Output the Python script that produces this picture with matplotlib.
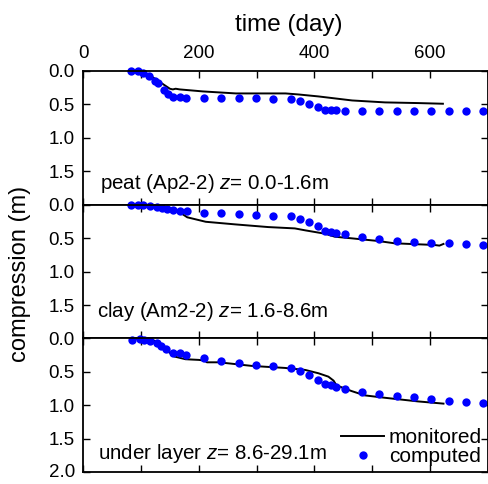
import matplotlib
matplotlib.use("Agg")
import matplotlib.pyplot as plt
import numpy as np

plt.rcParams['font.family'] = ['Liberation Sans', 'DejaVu Sans']
plt.rcParams['mathtext.fontset'] = 'custom'
plt.rcParams['mathtext.rm'] = 'Liberation Sans'
plt.rcParams['mathtext.it'] = 'Liberation Sans:italic'

# computed points (later part shares the same days)
late_days = [209, 239, 269, 299, 329, 359, 375, 390, 406, 418, 428, 437, 452,
             482, 512, 542, 572, 602, 632, 662, 692]

peat_comp_days = [83, 95, 104, 114, 125, 130, 139, 146, 155, 167, 178] + late_days
peat_comp = [0.0, 0.0, 0.04, 0.08, 0.156, 0.19, 0.29, 0.35, 0.39, 0.40, 0.41,
             0.415, 0.415, 0.415, 0.415, 0.425, 0.425, 0.45, 0.50, 0.54, 0.585, 0.59, 0.59,
             0.595, 0.60, 0.60, 0.60, 0.60, 0.60, 0.60, 0.60, 0.60]

clay_comp_days = [83, 95, 104, 115, 127, 136, 145, 156, 167, 179] + late_days
clay_comp = [0.01, 0.01, 0.01, 0.02, 0.03, 0.05, 0.07, 0.08, 0.09, 0.10,
             0.119, 0.133, 0.148, 0.159, 0.169, 0.173, 0.213, 0.267, 0.326, 0.391, 0.41,
             0.43, 0.444, 0.48, 0.514, 0.539, 0.554, 0.569, 0.578, 0.59, 0.60]

under_comp_days = [84, 98, 105, 115, 127, 135, 144, 155, 167, 178] + late_days
under_comp = [0.02, 0.01, 0.025, 0.035, 0.074, 0.11, 0.16, 0.21, 0.22, 0.25,
              0.29, 0.33, 0.36, 0.39, 0.415, 0.436, 0.49, 0.55, 0.62, 0.68, 0.70,
              0.73, 0.76, 0.80, 0.83, 0.86, 0.88, 0.90, 0.93, 0.945, 0.96]

# monitored lines
peat_mon_days = [82, 100, 115, 132, 150, 155, 160, 167, 207, 264, 320, 350, 373,
                 407, 436, 465, 522, 579, 622]
peat_mon = [0.0, 0.02, 0.067, 0.166, 0.27, 0.28, 0.27, 0.28, 0.31, 0.34, 0.34, 0.34,
            0.356, 0.385, 0.415, 0.445, 0.474, 0.484, 0.494]

clay_mon_days = [90, 132, 155, 172, 180, 212, 263, 320, 366, 384, 418, 435, 464,
                 510, 538, 578, 607, 616, 623]
clay_mon = [0.0, 0.02, 0.07, 0.144, 0.19, 0.257, 0.296, 0.336, 0.356, 0.385, 0.435,
            0.48, 0.504, 0.544, 0.578, 0.593, 0.603, 0.613, 0.588]

under_mon_days = [84, 120, 135, 149, 158, 177, 200, 210, 214, 235, 292, 349, 384,
                  407, 424, 433, 438, 464, 487, 521, 579, 623]
under_mon = [0.0, 0.02, 0.085, 0.21, 0.27, 0.31, 0.32, 0.33, 0.356, 0.356, 0.41, 0.44,
             0.47, 0.52, 0.57, 0.63, 0.70, 0.785, 0.85, 0.885, 0.94, 0.973]

labels = ['peat (Ap2-2) $z$= 0.0-1.6m', 'clay (Am2-2) $z$= 1.6-8.6m',
          'under layer $z$= 8.6-29.1m']
text_pos = [(0.042, 0.118), (0.034, 0.159), (0.036, 0.10)]

series = [(peat_mon_days, peat_mon, peat_comp_days, peat_comp),
          (clay_mon_days, clay_mon, clay_comp_days, clay_comp),
          (under_mon_days, under_mon, under_comp_days, under_comp)]

fig, axes = plt.subplots(3, 1, figsize=(4.89, 4.84), dpi=100, sharex=True)
fig.subplots_adjust(left=0.170, right=0.998, top=0.854, bottom=0.024, hspace=0)

for i, ax in enumerate(axes):
    md, mv, cd, cv = series[i]
    ax.plot(md, mv, color='black', lw=1.4, label='monitored')
    ax.plot(cd, cv, 'o', color='#0000ff', ms=6, mec='none', label='computed',
            clip_on=False)
    ax.set_xlim(0, 700)
    ax.set_ylim(2.0, 0.0)
    ax.set_xticks(range(0, 701, 100))
    ax.set_xticklabels(['0', '', '200', '', '400', '', '600', ''])
    if i < 2:
        ax.set_yticks([0.0, 0.5, 1.0, 1.5])
    else:
        ax.set_yticks([0.0, 0.5, 1.0, 1.5, 2.0])
    ax.tick_params(direction='in', length=5, width=1, labelsize=13.5, pad=6,
                   top=True, right=True, bottom=True, left=True,
                   labelbottom=False, labeltop=(i == 0))
    for s in ax.spines.values():
        s.set_linewidth(1.3)
    ax.text(text_pos[i][0], text_pos[i][1], labels[i], transform=ax.transAxes,
            fontsize=14.8, va='baseline', ha='left')

# keep the lowest tick label inside the figure
axes[2].get_yticklabels()[-1].set_verticalalignment('center')

axes[2].legend(loc='lower right', bbox_to_anchor=(1.0, 0.0), frameon=False,
               fontsize=15, handlelength=2.1, handletextpad=0.2,
               labelspacing=0.0, borderpad=0.2, borderaxespad=0.1)

fig.text(0.591, 0.948, 'time (day)', fontsize=17.5, ha='center', va='center')
fig.text(0.041, 0.434, 'compression (m)', fontsize=17, ha='center', va='center',
         rotation=90)

fig.savefig('out.png', dpi=100)
